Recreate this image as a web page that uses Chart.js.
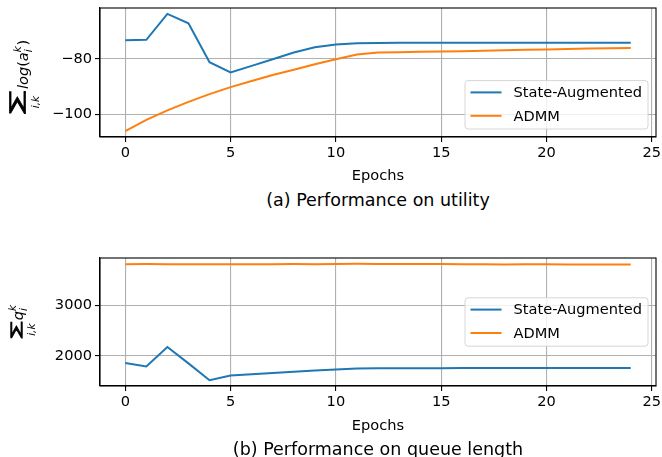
<!DOCTYPE html>
<html>
<head>
<meta charset="utf-8">
<script src="https://cdn.jsdelivr.net/npm/chart.js@4.4.0/dist/chart.umd.min.js"></script>
<style>
html, body { margin: 0; padding: 0; background: #fff; }
#wrap { position: relative; width: 662px; height: 457px; overflow: hidden; font-family: "DejaVu Sans", sans-serif; }
canvas { position: absolute; left: 0; }
.caption { position: absolute; left: 100px; width: 556px; text-align: center; font-size: 17.5px; line-height: 20px; color: #000; white-space: nowrap; }
</style>
</head>
<body>
<div id="wrap">
  <canvas id="utilityChart" width="662" height="190" style="top:0px"></canvas>
  <div class="caption" style="top:190px">(a) Performance on utility</div>
  <canvas id="queueChart" width="662" height="190" style="top:250px"></canvas>
  <div class="caption" style="top:439px">(b) Performance on queue length</div>
</div>
<script>
// data
const epochs = [0, 1, 2, 3, 4, 5, 6, 7, 8, 9, 10, 11, 12, 13, 14, 15, 16, 17, 18, 19, 20, 21, 22, 23, 24];
const seriesNames = ['State-Augmented', 'ADMM'];
const seriesColors = ['#1f77b4', '#ff7f0e'];

const utilityStateAug = [-73.2, -73.1, -63.7, -67.1, -81.2, -84.9, -82.5, -80.1, -77.7, -75.8, -74.8, -74.3, -74.2,
    -74.1, -74.1, -74.1, -74.1, -74.1, -74.1, -74.1, -74.1, -74.1, -74.1, -74.1, -74.1];
const utilityAdmm = [-106.1, -102.0, -98.6, -95.5, -92.7, -90.2, -88.0, -85.8, -83.9, -81.9, -80.1, -78.4, -77.7,
    -77.6, -77.4, -77.3, -77.2, -77.0, -76.9, -76.7, -76.6, -76.4, -76.2, -76.1, -76.0];

const queueStateAug = [1855, 1790, 2175, 1849, 1515, 1610, 1635, 1658, 1682, 1706, 1730, 1750, 1752,
    1753, 1754, 1755, 1756, 1757, 1757, 1758, 1758, 1758, 1759, 1759, 1759];
const queueAdmm = [3822, 3826, 3824, 3822, 3821, 3825, 3823, 3822, 3826, 3824, 3828, 3832, 3830,
    3829, 3827, 3826, 3824, 3822, 3820, 3823, 3822, 3820, 3819, 3820, 3818];

const epochTicks = [0, 5, 10, 15, 20, 25];
const utilityTicks = [-100, -80];
const queueTicks = [2000, 3000];

const FONT = '"DejaVu Sans", sans-serif';
const FS = 14.6;

// matplotlib style 5% margins
function padRange(arrs) {
    const all = arrs.flat();
    const lo = Math.min(...all), hi = Math.max(...all);
    const m = (hi - lo) * 0.05;
    return [lo - m, hi + m];
}

const fmtTick = v => v < 0 ? '\u2212' + Math.abs(v) : String(v);

// box around the axes + legend inside the axes
const frameLegend = {
    id: 'frameLegend',
    afterDatasetsDraw(chart, args, opts) {
        const { ctx, chartArea: a } = chart;
        ctx.save();
        ctx.strokeStyle = '#000';
        ctx.lineWidth = 1.1;
        ctx.strokeRect(a.left, a.top, a.right - a.left, a.bottom - a.top);

        ctx.font = FS + 'px ' + FONT;
        const textW = Math.max(...chart.data.datasets.map(d => ctx.measureText(d.label).width));
        const w = 5.5 + 31 + 12 + textW + 6;
        const h = 48.4;
        const x = a.right - 8 - w;
        const y = opts.place === 'lower right' ? a.bottom - 8 - h : (a.top + a.bottom) / 2 - h / 2;
        ctx.beginPath();
        ctx.roundRect(x, y, w, h, 3);
        ctx.fillStyle = 'rgba(255,255,255,0.8)';
        ctx.fill();
        ctx.strokeStyle = '#d6d6d6';
        ctx.lineWidth = 1;
        ctx.stroke();
        chart.data.datasets.forEach((ds, i) => {
            const ry = y + 11.8 + i * 23.4;
            ctx.beginPath();
            ctx.moveTo(x + 5.5, ry);
            ctx.lineTo(x + 36.5, ry);
            ctx.strokeStyle = ds.borderColor;
            ctx.lineWidth = 2;
            ctx.stroke();
            ctx.fillStyle = '#000';
            ctx.textBaseline = 'middle';
            ctx.textAlign = 'left';
            ctx.fillText(ds.label, x + 48.5, ry + 1);
        });
        ctx.restore();
    }
};

// rotated math-ish y label: sum with i,k limits, then the term
const mathLabel = {
    id: 'mathLabel',
    afterDraw(chart, args, opts) {
        const { ctx, chartArea: a } = chart;
        const parts = opts.parts;
        ctx.save();
        const fontOf = p => (p.italic ? 'oblique ' : '') + p.size + 'px ' + FONT;
        const widthOf = p => {
            if (p.sum) return p.sumW + p.gap;
            ctx.font = fontOf(p);
            if (p.script) return Math.max(ctx.measureText(p.sub).width, ctx.measureText(p.sup).width) + 0.5;
            return ctx.measureText(p.t).width;
        };
        const total = parts.reduce((s, p) => s + widthOf(p), 0);
        const cy = (a.top + a.bottom) / 2 + opts.shift;
        ctx.translate(opts.baseX, cy + total / 2);
        ctx.rotate(-Math.PI / 2);
        ctx.fillStyle = '#000';
        ctx.strokeStyle = '#000';
        ctx.textBaseline = 'alphabetic';
        ctx.textAlign = 'left';
        let u = 0;
        parts.forEach(p => {
            const w = widthOf(p);
            if (p.sum) {
                // fit the sum sign into its box, stroke a little to keep its weight
                ctx.font = '100px ' + FONT;
                const m = ctx.measureText('\u2211');
                const inkW = m.actualBoundingBoxLeft + m.actualBoundingBoxRight;
                const inkH = m.actualBoundingBoxAscent + m.actualBoundingBoxDescent;
                const sx = p.sumW / inkW, sy = p.sumH / inkH;
                ctx.save();
                ctx.translate(u, p.sumBottom);
                ctx.scale(sx, sy);
                ctx.lineWidth = 0.7 / Math.min(sx, sy);
                ctx.fillText('\u2211', m.actualBoundingBoxLeft, -m.actualBoundingBoxDescent);
                ctx.strokeText('\u2211', m.actualBoundingBoxLeft, -m.actualBoundingBoxDescent);
                ctx.restore();
                ctx.font = 'oblique ' + p.limSize + 'px ' + FONT;
                ctx.textAlign = 'center';
                ctx.fillText(p.lim, u + p.sumW / 2, p.limDy);
                ctx.textAlign = 'left';
            } else if (p.script) {
                ctx.font = fontOf(p);
                ctx.fillText(p.sub, u, p.subDy);
                ctx.fillText(p.sup, u, p.supDy);
            } else {
                ctx.font = fontOf(p);
                ctx.fillText(p.t, u, p.dy || 0);
            }
            u += w;
        });
        ctx.restore();
    }
};

function buildChart(id, seriesA, seriesB, yTicks, legendPlace, labelParts, labelX, labelShift, xAxisH) {
    const [yMin, yMax] = padRange([seriesA, seriesB]);
    const toXY = arr => epochs.map((e, i) => ({ x: e, y: arr[i] }));
    return new Chart(document.getElementById(id), {
        type: 'line',
        data: {
            datasets: [seriesA, seriesB].map((s, i) => ({
                label: seriesNames[i],
                data: toXY(s),
                borderColor: seriesColors[i],
                backgroundColor: seriesColors[i],
                borderWidth: 2,
                pointRadius: 0,
                tension: 0,
                fill: false
            }))
        },
        options: {
            responsive: false,
            animation: false,
            layout: { padding: { top: 8, right: 6, left: 0, bottom: 0 } },
            plugins: {
                legend: { display: false },
                tooltip: { enabled: false },
                frameLegend: { place: legendPlace },
                mathLabel: { parts: labelParts, baseX: labelX, shift: labelShift }
            },
            scales: {
                x: {
                    type: 'linear',
                    min: -1.2,
                    max: 25.2,
                    afterBuildTicks: s => { s.ticks = epochTicks.map(v => ({ value: v })); },
                    afterFit: s => { s.height = xAxisH; s.paddingLeft = 0; s.paddingRight = 0; },
                    grid: { color: '#b0b0b0', lineWidth: 1.1, tickColor: '#000', tickLength: 5, drawTicks: true },
                    border: { color: '#000', width: 1.1 },
                    ticks: { color: '#000', font: { family: FONT, size: FS }, padding: 2, maxRotation: 0, autoSkip: false },
                    title: { display: true, text: 'Epochs', color: '#000', font: { family: FONT, size: FS }, padding: { top: 0, bottom: 5 } }
                },
                y: {
                    min: yMin,
                    max: yMax,
                    afterBuildTicks: s => { s.ticks = yTicks.map(v => ({ value: v })); },
                    afterFit: s => { s.width = 100; s.paddingTop = 0; s.paddingBottom = 0; },
                    grid: { color: '#b0b0b0', lineWidth: 1.1, tickColor: '#000', tickLength: 5, drawTicks: true },
                    border: { color: '#000', width: 1.1 },
                    ticks: { color: '#000', font: { family: FONT, size: FS }, padding: 3, callback: fmtTick, autoSkip: false }
                }
            }
        },
        plugins: [frameLegend, mathLabel]
    });
}

const utilityLabel = [
    { sum: true, sumW: 22, sumH: 16, sumBottom: -3, gap: 2, lim: 'i,k', limSize: 10.5, limDy: 11 },
    { t: 'log', italic: true, size: FS },
    { t: '(', size: FS },
    { t: 'a', italic: true, size: FS },
    { script: true, italic: true, size: 10.5, sub: 'i', sup: 'k', subDy: 3.5, supDy: -7.5 },
    { t: ')', size: FS }
];
const queueLabel = [
    { sum: true, sumW: 16, sumH: 12, sumBottom: 0, gap: 1.5, lim: 'i,k', limSize: 10.5, limDy: 11.5 },
    { t: 'q', italic: true, size: FS },
    { script: true, italic: true, size: 10.5, sub: 'i', sup: 'k', subDy: 3.5, supDy: -7.5 }
];

buildChart('utilityChart', utilityStateAug, utilityAdmm, utilityTicks, 'lower right', utilityLabel, 28, 4, 53);
buildChart('queueChart', queueStateAug, queueAdmm, queueTicks, 'center right', queueLabel, 23, -1, 54);
</script>
</body>
</html>
